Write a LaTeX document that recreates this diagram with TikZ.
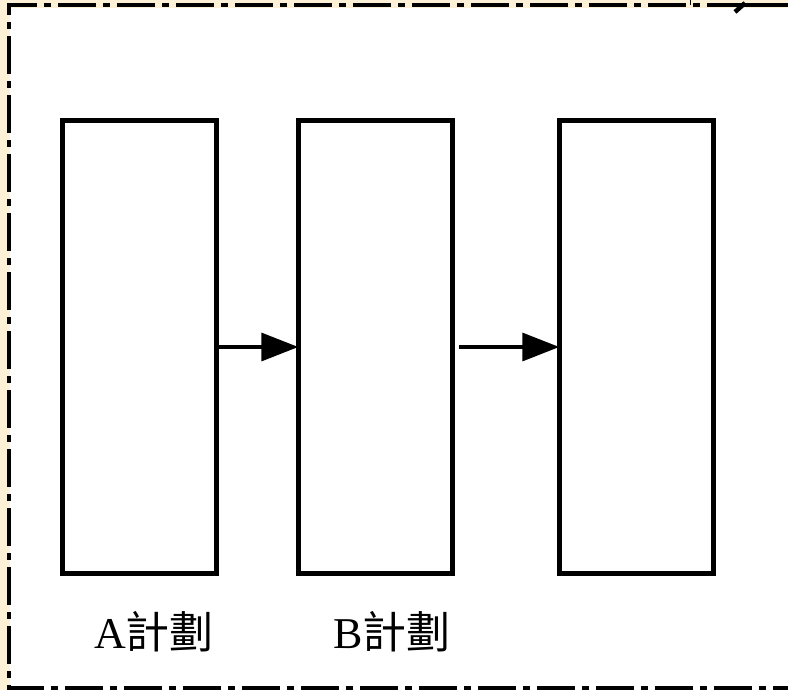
\documentclass[tikz,border=0pt]{standalone}
\usepackage{fontspec}
\setmainfont{Liberation Serif}
\newfontfamily\cjk{Noto Sans CJK TC}
\usetikzlibrary{arrows.meta}
\definecolor{beige}{RGB}{252,240,214}
\tikzset{
  plan/.style={draw=black, line width=4.5pt, minimum width=154pt, minimum height=453pt, inner sep=0pt},
  flow/.style={line width=3.5pt, -{Triangle[length=37pt,width=28pt]}, shorten >=-2pt},
  frame/.style={line width=3.5pt, dash pattern=on 38pt off 7pt on 7pt off 7pt},
  lbl/.style={font=\fontsize{44pt}{48pt}\selectfont, inner sep=0pt}
}
\begin{document}
\begin{tikzpicture}[x=1pt,y=-1pt]
\useasboundingbox (0,0) rectangle (788,690);
\fill[beige] (0,0) rectangle (788,690);
\fill[white] (10,8) rectangle (788,690);
% frame
\draw[frame] (745,5) -- (9,5) -- (9,688) -- (788,688);
\draw[line width=3.5pt] (745,5) -- (788,5);
\draw[line width=4.5pt] (735,12) -- (745,3);
\draw[line width=1pt] (690,0) -- (690,5);
% boxes
\node[plan] (a) at (139.5,347) {};
\node[plan] (b) at (375.5,347) {};
\node[plan] (c) at (636.5,347) {};
% arrows
\draw[flow] (a.east) -- (b.west);
\draw[flow] ([xshift=4pt]b.east) -- (c.west);
% labels
\node[lbl] (la) at (154,632) {A{\cjk 計劃}};
\node[lbl] (lb) at (392,632) {B{\cjk 計劃}};
\end{tikzpicture}
\end{document}
